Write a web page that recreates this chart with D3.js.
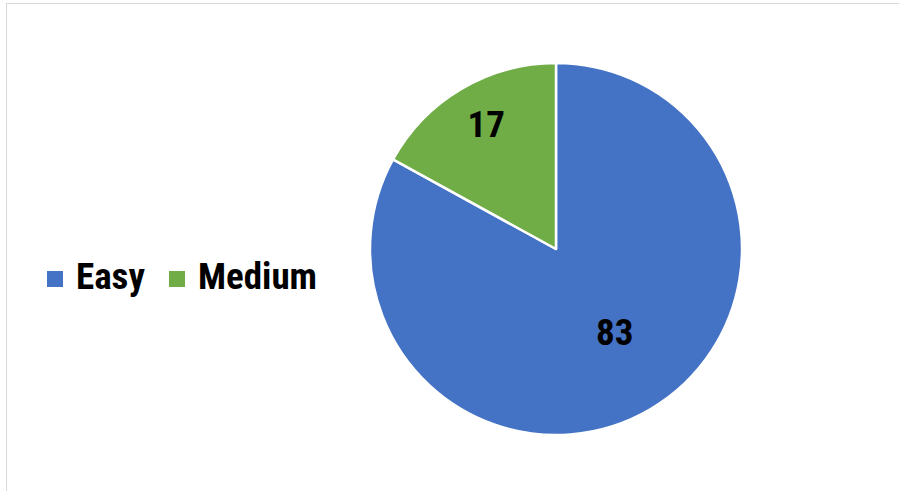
<!DOCTYPE html>
<html><head><meta charset="utf-8">
<script src="https://cdn.jsdelivr.net/npm/d3@7"></script>
<style>
html,body{margin:0;padding:0;background:#fff;}
svg{display:block;}
text{font-family:"Liberation Sans Narrow","Arial Narrow","Roboto Condensed",sans-serif;font-weight:bold;}
</style></head>
<body>
<svg id="chart" width="899" height="491"></svg>
<script>
const categories = ["Easy", "Medium"];
const values = [83, 17];
const colors = ["#4472C4", "#70AD47"];

const svg = d3.select("#chart");
// chart area border
svg.append("rect").attr("x",6.5).attr("y",3.5).attr("width",899).attr("height",495)
  .attr("fill","none").attr("stroke","#d9d9d9").attr("stroke-width",1);

const cx = 556, cy = 249, r = 186;
const data = categories.map((c,i)=>({cat:c, value:values[i], color:colors[i]}));
const pie = d3.pie().sort(null).value(d=>d.value);
const arcs = pie(data);
const arc = d3.arc().innerRadius(0).outerRadius(r);
const g = svg.append("g").attr("transform",`translate(${cx},${cy})`);
g.selectAll("path").data(arcs).join("path")
  .attr("d",arc).attr("fill",d=>d.data.color)
  .attr("stroke","#fff").attr("stroke-width",2.5).attr("stroke-linejoin","round");

// labels
const labelRadius = [0.6, 0.8];
const labelShift = [[2,-13],[6,4]];
g.selectAll("text.lbl").data(arcs).join("text").attr("class","lbl")
  .attr("transform",(d,i)=>{
    const la = d3.arc().innerRadius(r*labelRadius[i]).outerRadius(r*labelRadius[i]);
    const c = la.centroid(d);
    return `translate(${c[0]+labelShift[i][0]},${c[1]+labelShift[i][1]})`;
  })
  .attr("text-anchor","middle").attr("dominant-baseline","central")
  .attr("font-size",37).attr("fill","#000")
  .text(d=>d.data.value);

// legend
const legend = svg.append("g").attr("transform","translate(47,279)");
const xs = [0, 122];
const items = legend.selectAll("g").data(data).join("g")
  .attr("transform",(d,i)=>`translate(${xs[i]},0)`);
items.append("rect").attr("x",0).attr("y",-8).attr("width",16).attr("height",16).attr("fill",d=>d.color);
items.append("text").attr("x",29).attr("y",10).attr("font-size",37).attr("fill","#000").text(d=>d.cat);
</script>
</body></html>
